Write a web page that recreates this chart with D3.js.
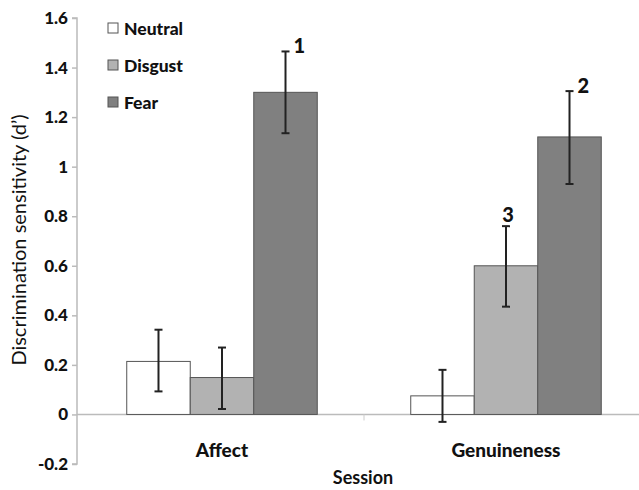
<!DOCTYPE html>
<html><head><meta charset="utf-8">
<script src="https://cdn.jsdelivr.net/npm/d3@7"></script>
<style>body{margin:0;background:#fff}</style>
</head><body>
<svg id="c" width="639" height="490"></svg>
<script>
const sessions = ["Affect", "Genuineness"];
const emotions = ["Neutral", "Disgust", "Fear"];
const colors = ["#ffffff", "#b2b2b2", "#808080"];
const means = [[0.214, 0.149, 1.30], [0.075, 0.60, 1.12]];
const errLow = [[0.093, 0.022, 1.135], [-0.03, 0.435, 0.93]];
const errHigh = [[0.342, 0.27, 1.465], [0.18, 0.76, 1.305]];
const notes = [[null, null, "1"], [null, "3", "2"]];
const yTicks = [-0.2, 0, 0.2, 0.4, 0.6, 0.8, 1, 1.2, 1.4, 1.6];

const svg = d3.select("#c");
const font = "Lato, 'Open Sans', sans-serif";
const x0 = d3.scaleBand().domain(sessions).range([80, 648]).paddingInner(0).paddingOuter(0);
const x1 = d3.scaleBand().domain(emotions).range([0, x0.bandwidth()]).paddingInner(0).paddingOuter(0.736);
const y = d3.scaleLinear().domain([-0.2, 1.6]).range([464, 18]);

// y axis
const ya = svg.append("g").attr("transform", "translate(77,0)")
  .call(d3.axisLeft(y).tickValues(yTicks).tickSize(5).tickPadding(4)
    .tickFormat(d => String(+d.toFixed(1))));
ya.select(".domain").attr("stroke", "#bbb").attr("stroke-width", 1.5).attr("d", `M-5,${y(-0.2)}H0V${y(1.6)}H-5`);
ya.selectAll(".tick line").attr("stroke", "#bbb").attr("stroke-width", 1.5);
ya.selectAll(".tick text").attr("font-family", font).attr("font-weight", "900").attr("font-size", 17).attr("fill", "#111");

// x axis at zero
svg.append("line").attr("x1", 77).attr("x2", 639).attr("y1", y(0)).attr("y2", y(0))
  .attr("stroke", "#bbb").attr("stroke-width", 1.5);
svg.append("line").attr("x1", x0("Genuineness")).attr("x2", x0("Genuineness"))
  .attr("y1", y(0)).attr("y2", y(0) + 6).attr("stroke", "#ccc").attr("stroke-width", 1);

// category labels
svg.selectAll(".cat").data(sessions).join("text")
  .attr("x", d => x0(d) + x0.bandwidth() / 2)
  .attr("y", 457).attr("text-anchor", "middle")
  .attr("font-family", font).attr("font-weight", "900").attr("font-size", 19).attr("fill", "#111")
  .text(d => d);

// bars
sessions.forEach((s, i) => {
  const g = svg.append("g").attr("transform", `translate(${x0(s)},0)`);
  emotions.forEach((e, j) => {
    const v = means[i][j];
    g.append("rect").attr("x", x1(e)).attr("width", x1.bandwidth())
      .attr("y", y(Math.max(0, v))).attr("height", Math.abs(y(v) - y(0)))
      .attr("fill", colors[j]).attr("stroke", "#555").attr("stroke-width", 1);
  });
  emotions.forEach((e, j) => {
    const cx = x1(e) + x1.bandwidth() / 2;
    const lo = y(errLow[i][j]), hi = y(errHigh[i][j]);
    g.append("line").attr("x1", cx).attr("x2", cx).attr("y1", lo).attr("y2", hi).attr("stroke", "#222").attr("stroke-width", 2);
    [lo, hi].forEach(yy => g.append("line").attr("x1", cx - 4).attr("x2", cx + 4).attr("y1", yy).attr("y2", yy).attr("stroke", "#222").attr("stroke-width", 2));
    if (notes[i][j]) {
      const right = j === 2;
      g.append("text").attr("x", right ? cx + 8 : cx + 2)
        .attr("y", right ? hi + 2 : hi - 4)
        .attr("text-anchor", right ? "start" : "middle")
        .attr("font-family", font).attr("font-weight", "900").attr("font-size", 20).attr("fill", "#111")
        .text(notes[i][j]);
    }
  });
});

// legend
emotions.forEach((e, j) => {
  const ly = 23 + j * 37;
  svg.append("rect").attr("x", 108).attr("y", ly).attr("width", 10).attr("height", 10)
    .attr("fill", colors[j]).attr("stroke", "#555").attr("stroke-width", 1);
  svg.append("text").attr("x", 124).attr("y", ly + 11.5)
    .attr("font-family", font).attr("font-weight", "900").attr("font-size", 17.5).attr("fill", "#111").text(e);
});

// axis titles
svg.append("text").attr("transform", "translate(26,240) rotate(-90)").attr("text-anchor", "middle")
  .attr("font-family", font).attr("font-size", 20).attr("fill", "#111").text("Discrimination sensitivity (d’)");
svg.append("text").attr("x", 363).attr("y", 484).attr("text-anchor", "middle")
  .attr("font-family", font).attr("font-weight", "bold").attr("font-size", 18).attr("fill", "#111").text("Session");
</script>
</body></html>
